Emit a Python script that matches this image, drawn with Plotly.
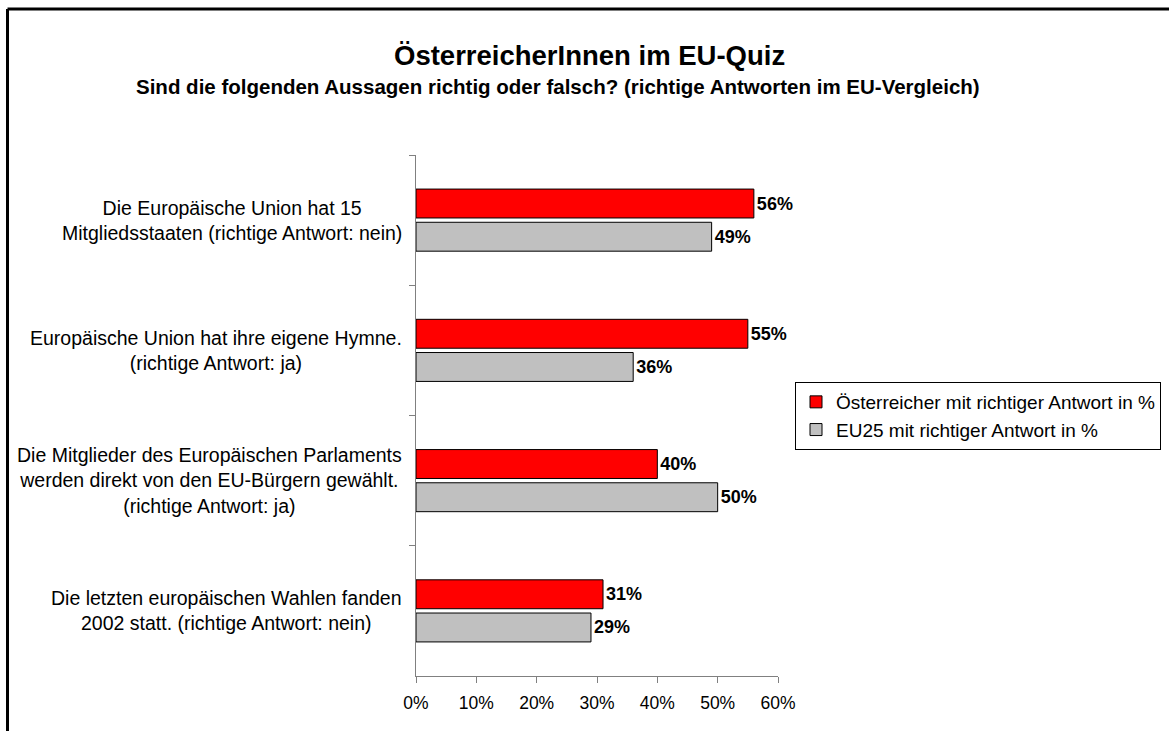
import plotly.graph_objects as go

categories = [
    "Die Europäische Union hat 15<br>Mitgliedsstaaten (richtige Antwort: nein)",
    "Europäische Union hat ihre eigene Hymne.<br>(richtige Antwort: ja)",
    "Die Mitglieder des Europäischen Parlaments<br>werden direkt von den EU-Bürgern gewählt.<br>(richtige Antwort: ja)",
    "Die letzten europäischen Wahlen fanden<br>2002 statt. (richtige Antwort: nein)",
]
austria = [0.56, 0.55, 0.40, 0.31]
eu25 = [0.49, 0.36, 0.50, 0.29]
series_names = ["Österreicher mit richtiger Antwort in %", "EU25 mit richtiger Antwort in %"]
x_ticks = [0, 0.1, 0.2, 0.3, 0.4, 0.5, 0.6]

W, H = 1169, 731
L, R, T, B = 416, 778, 155, 676
FONT = "Liberation Sans, Arial, sans-serif"

def px(x):
    return (x - L) / (R - L)

def py(y):
    return (B - y) / (B - T)

fig = go.Figure()
fig.add_trace(go.Bar(
    y=categories, x=austria, orientation="h", name=series_names[0],
    marker=dict(color="#FF0000", line=dict(color="#000000", width=1)),
    texttemplate="%{x:.0%}", textposition="outside",
    textfont=dict(family=FONT, size=18, color="#000000", weight="bold"),
    cliponaxis=False,
))
fig.add_trace(go.Bar(
    y=categories, x=eu25, orientation="h", name=series_names[1],
    marker=dict(color="#C0C0C0", line=dict(color="#000000", width=1)),
    texttemplate="%{x:.0%}", textposition="outside",
    textfont=dict(family=FONT, size=18, color="#000000", weight="bold"),
    cliponaxis=False,
))

annotations = []
for c in categories:
    annotations.append(dict(
        x=px(404), xref="paper", y=c, yref="y", text=c, showarrow=False,
        xanchor="right", yanchor="middle", align="center",
        font=dict(family=FONT, size=19.5, color="#000000"),
    ))
annotations.append(dict(
    x=px(589), xref="paper", y=py(55), yref="paper", text="<b>ÖsterreicherInnen im EU-Quiz</b>",
    showarrow=False, xanchor="center", yanchor="middle",
    font=dict(family=FONT, size=27.5, color="#000000"),
))
annotations.append(dict(
    x=px(558), xref="paper", y=py(86), yref="paper",
    text="<b>Sind die folgenden Aussagen richtig oder falsch? (richtige Antworten im EU-Vergleich)</b>",
    showarrow=False, xanchor="center", yanchor="middle",
    font=dict(family=FONT, size=20.5, color="#000000"),
))

shapes = [
    dict(type="line", xref="paper", yref="paper", x0=px(7.5), x1=px(1175), y0=py(9), y1=py(9),
         line=dict(color="#000000", width=3)),
    dict(type="line", xref="paper", yref="paper", x0=px(7.5), x1=px(7.5), y0=py(9), y1=py(740),
         line=dict(color="#000000", width=3)),
]

fig.update_layout(
    width=W, height=H,
    margin=dict(l=L, r=W - R, t=T, b=H - B, pad=0, autoexpand=False),
    paper_bgcolor="#FFFFFF", plot_bgcolor="#FFFFFF",
    barmode="group", bargap=0.49, bargroupgap=0.13,
    font=dict(family=FONT, size=19, color="#000000"),
    showlegend=True,
    legend=dict(
        x=px(795), y=py(382), xanchor="left", yanchor="top",
        bordercolor="#000000", borderwidth=1, bgcolor="#FFFFFF",
        font=dict(family=FONT, size=19, color="#000000"),
        tracegroupgap=0, traceorder="normal", itemwidth=30,
    ),
    annotations=annotations,
    shapes=shapes,
)
fig.update_xaxes(
    range=[0, 0.6], tickvals=x_ticks, tickformat=".0%",
    showgrid=False, zeroline=False, showline=True, linecolor="#808080", linewidth=1,
    ticks="outside", ticklen=6, tickcolor="#808080", ticklabelstandoff=5,
    tickfont=dict(family=FONT, size=17.5, color="#000000"),
)
fig.update_yaxes(
    autorange="reversed", showticklabels=False, tickson="boundaries",
    showgrid=False, showline=True, linecolor="#808080", linewidth=1,
    ticks="outside", ticklen=6, tickcolor="#808080",
)

fig.write_html("out.html", config={"displayModeBar": False},
               post_script="document.body.style.margin='0px';")
